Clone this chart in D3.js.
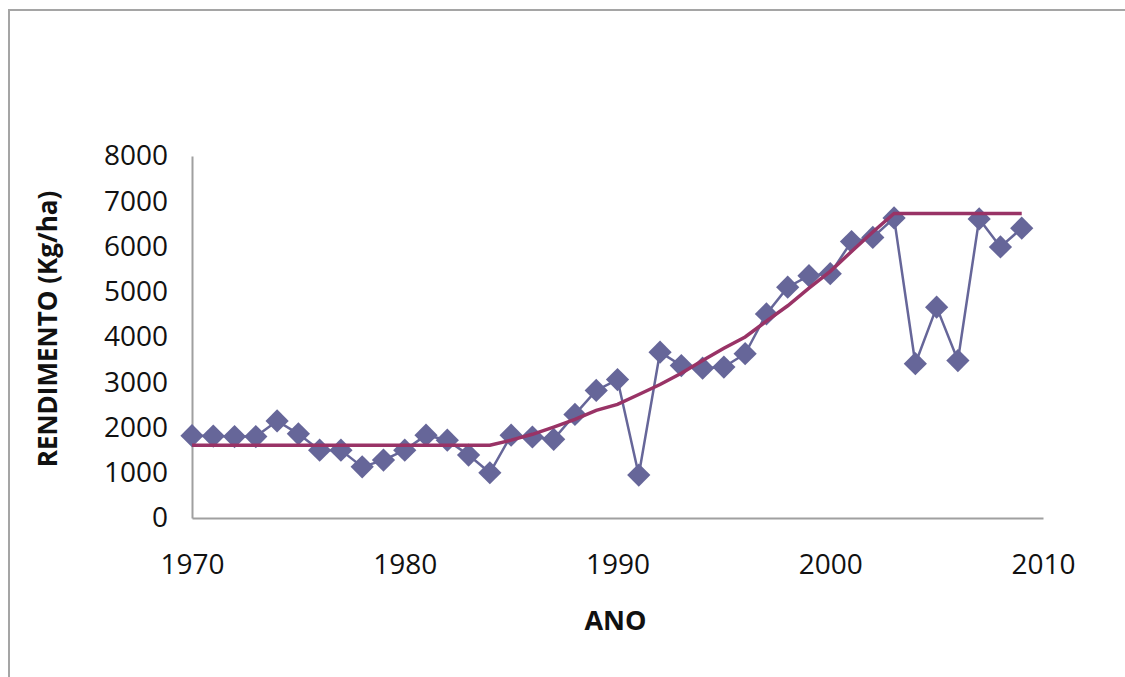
<!DOCTYPE html>
<html lang="pt">
<head>
    <meta charset="UTF-8">
    <script src="https://cdn.jsdelivr.net/npm/d3@7"></script>
    <title>Rendimento</title>
    <style>
        body { margin: 0; background: #fff; }
        text { font-family: "Open Sans", sans-serif; fill: #111; }
    </style>
</head>
<body>
    <script>
        const w = 1125;
        const h = 677;

        // data
        const years = d3.range(1970, 2010);
        const rendimento = [1820, 1810, 1800, 1800, 2145, 1860, 1500, 1500, 1130, 1280,
                            1500, 1830, 1720, 1390, 1000, 1830, 1790, 1740, 2290, 2820,
                            3060, 950, 3665, 3370, 3310, 3335, 3630, 4510, 5100, 5355,
                            5400, 6110, 6200, 6630, 3410, 4660, 3480, 6610, 5990, 6405];
        const tendencia = [1610, 1610, 1610, 1610, 1610, 1610, 1610, 1610, 1610, 1610,
                           1610, 1610, 1610, 1610, 1610, 1720, 1850, 2010, 2180, 2380,
                           2510, 2730, 2950, 3200, 3480, 3750, 4000, 4350, 4690, 5080,
                           5450, 5890, 6320, 6730, 6730, 6730, 6730, 6730, 6730, 6730];
        const xTicks = [1970, 1980, 1990, 2000, 2010];
        const yTicks = [0, 1000, 2000, 3000, 4000, 5000, 6000, 7000, 8000];

        const margin = {left: 192, right: 82, top: 156, bottom: 159};

        const x = d3.scaleLinear()
                    .domain([1970, 2010])
                    .range([margin.left, w - margin.right]);
        const y = d3.scaleLinear()
                    .domain([0, 8000])
                    .range([h - margin.bottom, margin.top]);

        const svg = d3.select("body")
                      .append("svg")
                      .attr("width", w)
                      .attr("height", h);

        // chart frame, runs off the right and bottom edges
        svg.append("rect")
           .attr("x", 9)
           .attr("y", 10)
           .attr("width", 1300)
           .attr("height", 900)
           .attr("fill", "none")
           .attr("stroke", "#a5a5a5")
           .attr("stroke-width", 2);

        // axes without tick marks
        const xAxis = d3.axisBottom(x).tickValues(xTicks).tickSize(0).tickPadding(36).tickFormat(d3.format("d"));
        const yAxis = d3.axisLeft(y).tickValues(yTicks).tickSize(0).tickPadding(24).tickFormat(d3.format("d"));

        const gx = svg.append("g")
                      .attr("transform", "translate(0," + y(0) + ")")
                      .call(xAxis);
        const gy = svg.append("g")
                      .attr("transform", "translate(" + x(1970) + ",0)")
                      .call(yAxis);

        [gx, gy].forEach(g => {
            g.select(".domain").attr("stroke", "#a0a0a0").attr("stroke-width", 2);
            g.selectAll("text").style("font-size", "28px").attr("fill", "#111");
        });

        svg.append("text")
           .attr("x", (x(1970) + x(2010)) / 2 - 2)
           .attr("y", 630)
           .attr("text-anchor", "middle")
           .style("font-size", "27px")
           .style("font-weight", "bold")
           .text("ANO");

        svg.append("text")
           .attr("transform", "translate(57," + 329 + ") rotate(-90)")
           .attr("text-anchor", "middle")
           .style("font-size", "26px")
           .style("font-weight", "bold")
           .text("RENDIMENTO (Kg/ha)");

        const serie = years.map((d, i) => ({ano: d, v: rendimento[i]}));
        const trend = years.map((d, i) => ({ano: d, v: tendencia[i]}));

        const line = d3.line()
                       .x(d => x(d.ano))
                       .y(d => y(d.v));

        svg.append("path")
           .datum(serie)
           .attr("d", line)
           .attr("fill", "none")
           .attr("stroke", "#666699")
           .attr("stroke-width", 2.5);

        const diamond = d3.symbol(d3.symbolSquare, 270);
        svg.selectAll(".ponto")
           .data(serie)
           .enter()
           .append("path")
           .attr("class", "ponto")
           .attr("d", diamond)
           .attr("transform", d => "translate(" + x(d.ano) + "," + y(d.v) + ") rotate(45)")
           .attr("fill", "#666699");

        svg.append("path")
           .datum(trend)
           .attr("d", line)
           .attr("fill", "none")
           .attr("stroke", "#993366")
           .attr("stroke-width", 3.5);
    </script>
</body>
</html>
